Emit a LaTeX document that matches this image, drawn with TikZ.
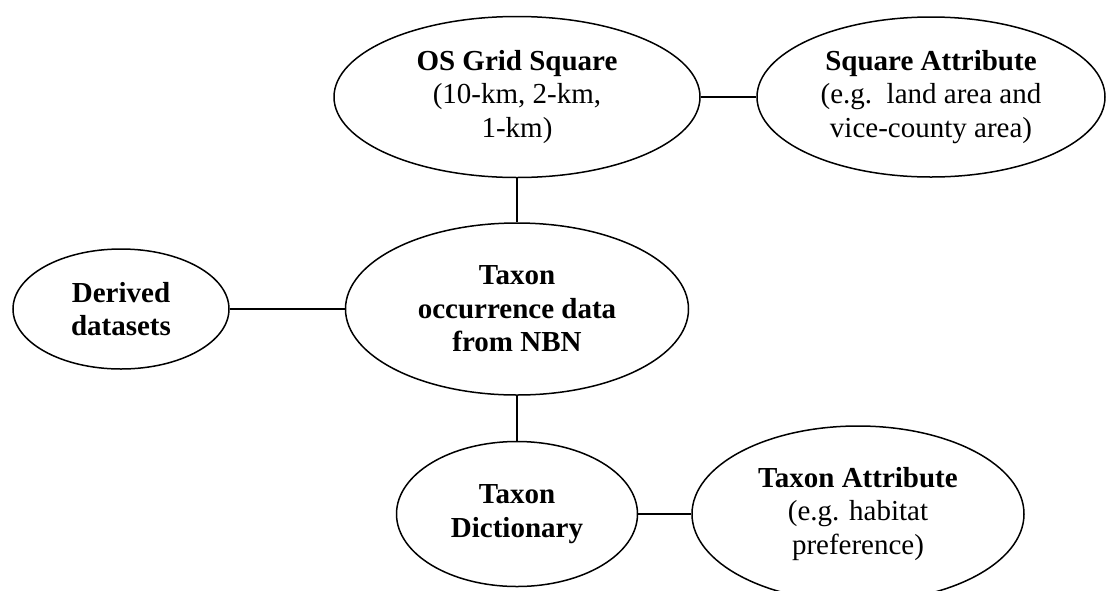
\documentclass[tikz,border=0pt]{standalone}
\usepackage{fontspec}
\setmainfont{Liberation Serif}
\usetikzlibrary{shapes.geometric}

\begin{document}
\begin{tikzpicture}[x=1pt, y=-1pt,
	bubble/.style={draw, ellipse, line width=1.5pt, inner sep=0pt, align=center,
		font=\fontsize{29}{33.5}\selectfont},
	link/.style={line width=1.5pt}]

\useasboundingbox (0,0) rectangle (1106,590);
\clip (0,0) rectangle (1106,590);

\def \hd #1{\textbf{#1}} % bold heading line

\node[bubble, minimum width=366pt, minimum height=161pt] (grid) at (517,97)
	{\hd{OS Grid Square}\\(10-km, 2-km,\\1-km)};
\node[bubble, minimum width=348pt, minimum height=160pt] (sqattr) at (931,97)
	{\hd{Square Attribute}\\(e.g.\ \ land area and\\vice-county area)};
\node[bubble, minimum width=343pt, minimum height=172pt] (occ) at (517,309)
	{\hd{Taxon}\\\hd{occurrence data}\\\hd{from NBN}};
\node[bubble, minimum width=216pt, minimum height=120pt] (derived) at (121,309)
	{\hd{Derived}\\\hd{datasets}};
\node[bubble, minimum width=241pt, minimum height=145pt] (dict) at (517,514)
	{\hd{Taxon}\\\hd{Dictionary}};
\node[bubble, minimum width=332pt, minimum height=176pt] (taxattr) at (858,514)
	{\hd{Taxon Attribute}\\(e.g. habitat\\preference)};

\draw[link] (grid) -- (sqattr);
\draw[link] (grid) -- (occ);
\draw[link] (derived) -- (occ);
\draw[link] (occ) -- (dict);
\draw[link] (dict) -- (taxattr);
\end{tikzpicture}
\end{document}
